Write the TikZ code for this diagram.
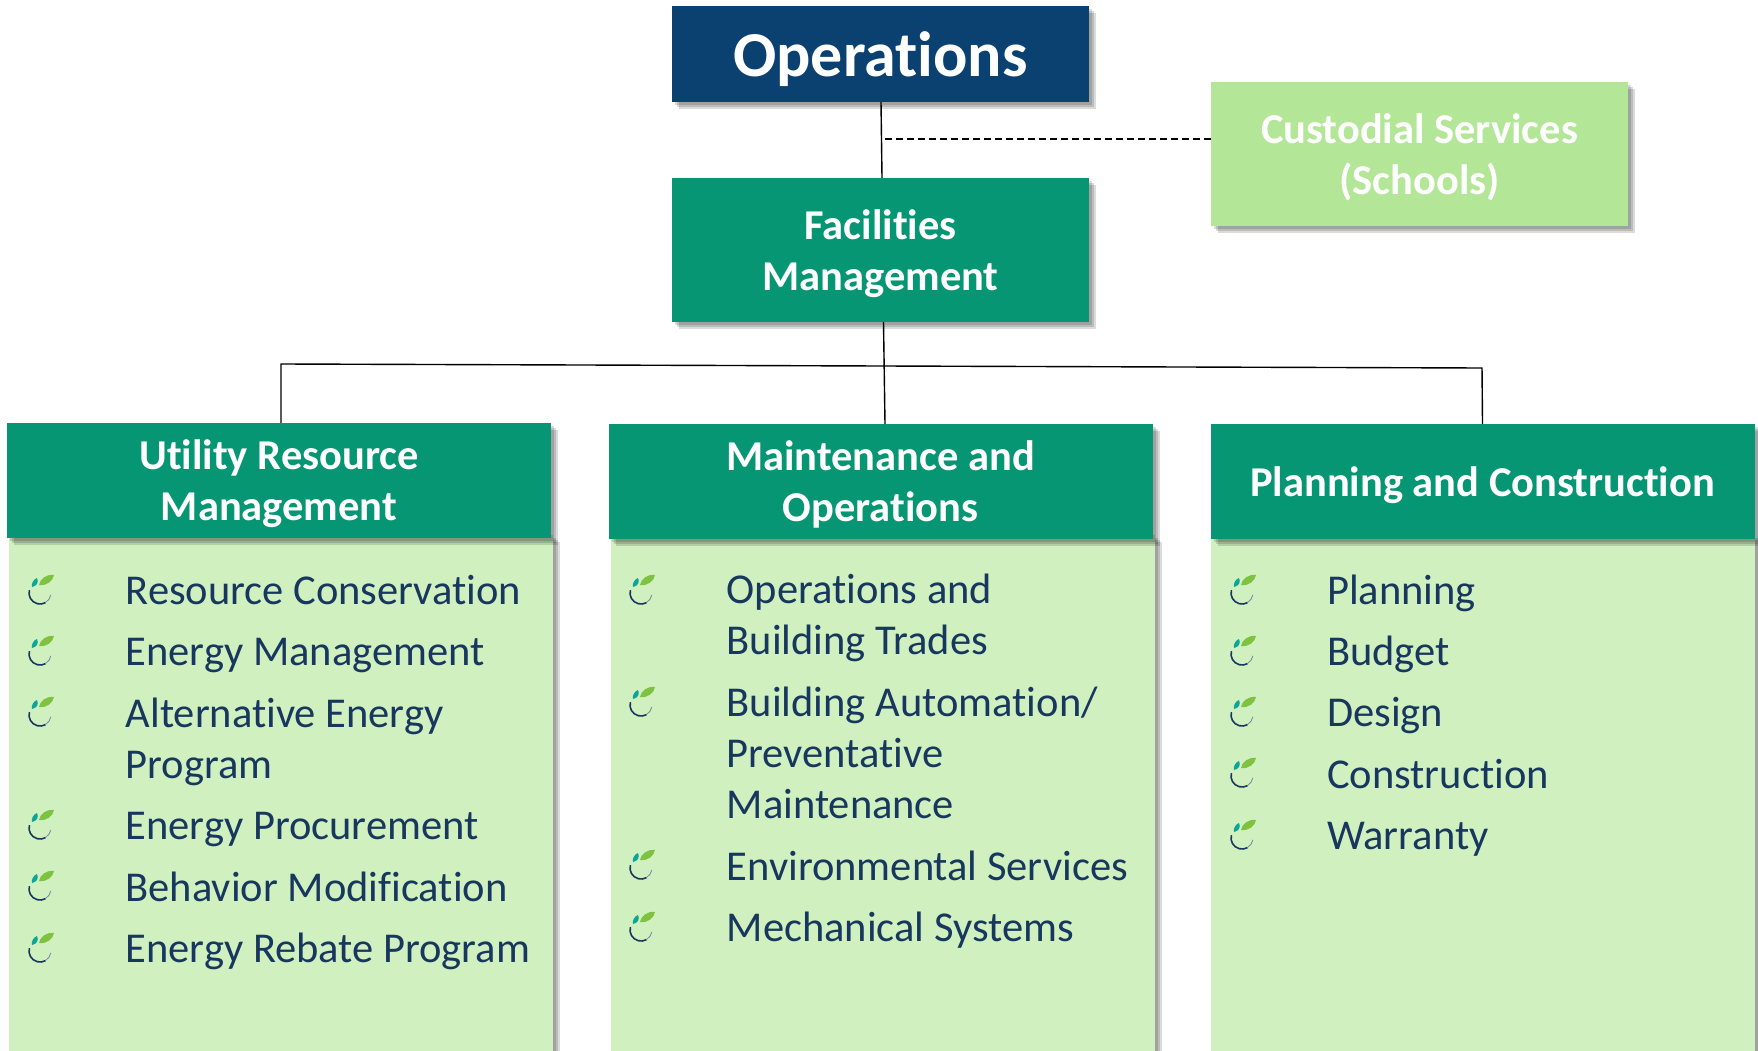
\documentclass[tikz,border=0pt]{standalone}
\usepackage{fontspec}
\setmainfont[Ligatures=NoCommon]{Carlito}
\usetikzlibrary{shadows}

\definecolor{opsblue}{HTML}{0A4170}
\definecolor{headgreen}{HTML}{079673}
\definecolor{custgreen}{HTML}{B3E797}
\definecolor{bodygreen}{HTML}{D1F0C0}
\definecolor{itemblue}{HTML}{17375E}
\definecolor{leafgreen}{HTML}{7FC241}
\definecolor{leafteal}{HTML}{0BA59A}

\tikzset{
  softshadow/.style={drop shadow={shadow xshift=#1, shadow yshift=-#1, fill=black, opacity=0.14}},
  boxshadow/.style={softshadow=7pt, softshadow=5pt, softshadow=3pt},
  headbox/.style={fill=headgreen, text=white, boxshadow, align=center, font=\fontsize{42.5}{51}\selectfont\bfseries, text depth=0pt, minimum width=544pt, minimum height=115pt, inner sep=0pt},
  bodybox/.style={fill=bodygreen, boxshadow, minimum width=544pt, minimum height=516pt, inner sep=0pt},
  itemtext/.style={anchor=base west, align=left, inner sep=0pt, text=itemblue, font=\fontsize{42.5}{51}\selectfont},
  leafbullet/.pic={
    \draw[itemblue, line width=1.6pt] (-10.6pt,2.8pt) arc[start angle=165, end angle=300, radius=11pt];
    \draw[itemblue!60, line width=0.8pt] (5.5pt,-9.5pt) arc[start angle=300, end angle=350, radius=11pt];
    \fill[leafteal] (-8,-6) .. controls (-9,-10) and (-6,-14) .. (-3,-15) .. controls (-1,-11) and (-3,-7) .. (-8,-6);
    \fill[leafgreen] (-1,-8) .. controls (0,-14) and (6,-19) .. (14,-18) .. controls (13,-12) and (7,-7) .. (-1,-8);
  }
}

\begin{document}
\begin{tikzpicture}[x=1pt, y=-1pt]
  \useasboundingbox (0,0) rectangle (1758,1051);

  % Top boxes
  \node[fill=opsblue, text=white, boxshadow, font=\fontsize{64}{70}\selectfont\bfseries, text height=52pt, text depth=7pt, minimum width=417pt, minimum height=96pt, inner sep=0pt] (ops) at (880.5,54) {Operations};
  \node[headbox, minimum width=417pt, minimum height=144pt] (fac) at (880.5,250) {Facilities\\Management};
  \node[headbox, fill=custgreen, minimum width=417pt, minimum height=144pt] (cust) at (1419.5,154) {Custodial Services\\(Schools)};

  % Column bodies
  \node[bodybox] (urmbody) at (280.5,793) {};
  \node[bodybox] (mobody) at (882.5,793) {};
  \node[bodybox] (pcbody) at (1483,793) {};

  % Column heads
  \node[headbox] (urmhead) at (279,480.5) {Utility Resource\\Management};
  \node[headbox] (mohead) at (880.5,481.5) {Maintenance and\\Operations};
  \node[headbox] (pchead) at (1482.5,481.5) {Planning and Construction};

  % Free ends
  \coordinate (dashstart) at (885,139);
  \coordinate (trunktop) at (883.5,322);
  \coordinate (trunkbot) at (885,424);
  \coordinate (busleft) at (281,364);
  \coordinate (busright) at (1482,368);

  % Connectors
  \draw[line width=1.4pt] ([xshift=0.5pt]ops.south) -- ([xshift=1.5pt]fac.north);
  \draw[line width=1.4pt, dashed, dash pattern=on 7pt off 4pt] (dashstart) -- (dashstart -| cust.west);
  \draw[line width=1.4pt] (trunktop) -- (trunkbot);
  \draw[line width=1.4pt] ([xshift=2pt]urmhead.north) -- (busleft) -- (busright) -- (pchead.north);

  % Utility Resource Management items
  \node[itemtext] (urma) at (125.5,604.5) {Resource Conservation};
  \node[itemtext] (urmb) at (125.5,665.5) {Energy Management};
  \node[itemtext] (urmc) at (125.5,778.5) {Alternative Energy\\Program};
  \node[itemtext] (urmd) at (125.5,839.5) {Energy Procurement};
  \node[itemtext] (urme) at (125.5,901) {Behavior Modification};
  \node[itemtext] (urmf) at (125.5,962.5) {Energy Rebate Program};
  \pic at (40,593) {leafbullet};
  \pic at (40,654) {leafbullet};
  \pic at (40,715) {leafbullet};
  \pic at (40,828) {leafbullet};
  \pic at (40,889) {leafbullet};
  \pic at (40,951) {leafbullet};

  % Maintenance and Operations items
  \node[itemtext] (moa) at (726.5,654.5) {Operations and\\Building Trades};
  \node[itemtext] (mob) at (726.5,818.5) {Building Automation/\\Preventative\\Maintenance};
  \node[itemtext] (moc) at (726.5,880.5) {Environmental Services};
  \node[itemtext] (mod) at (726.5,941.5) {Mechanical Systems};
  \pic at (641,593) {leafbullet};
  \pic at (641,705) {leafbullet};
  \pic at (641,868) {leafbullet};
  \pic at (641,930) {leafbullet};

  % Planning and Construction items
  \node[itemtext] (pca) at (1327,604) {Planning};
  \node[itemtext] (pcb) at (1327,665.5) {Budget};
  \node[itemtext] (pcc) at (1327,726.5) {Design};
  \node[itemtext] (pcd) at (1327,788) {Construction};
  \node[itemtext] (pce) at (1327,849.5) {Warranty};
  \pic at (1242,593) {leafbullet};
  \pic at (1242,654) {leafbullet};
  \pic at (1242,715) {leafbullet};
  \pic at (1242,776) {leafbullet};
  \pic at (1242,838) {leafbullet};
\end{tikzpicture}
\end{document}
